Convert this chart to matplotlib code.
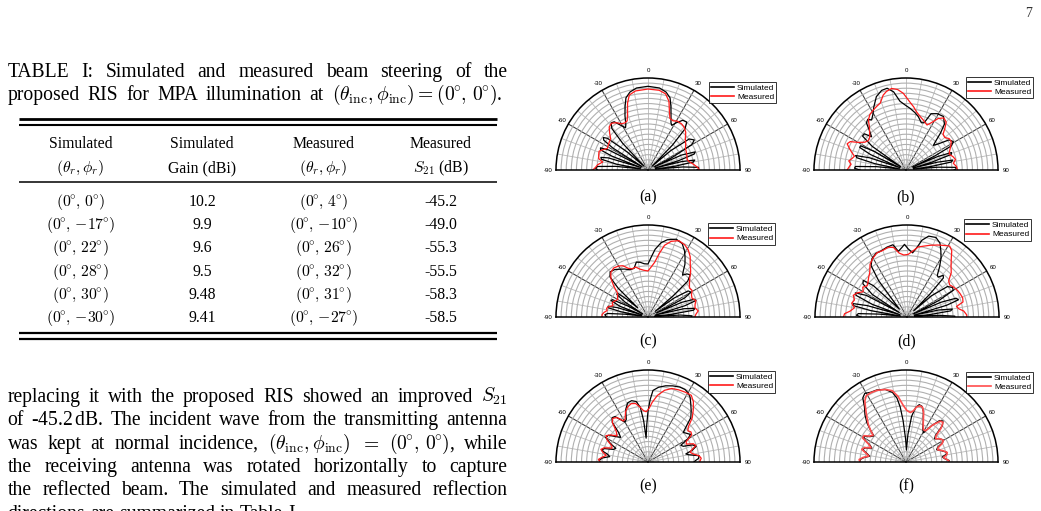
import numpy as np
import matplotlib
matplotlib.use("Agg")
import matplotlib.pyplot as plt
from matplotlib.lines import Line2D

plt.rcParams['font.family'] = 'Liberation Serif'
plt.rcParams['mathtext.fontset'] = 'cm'

W, H = 1041, 511

# ---------------- table data ----------------
col_heads_1 = ["Simulated", "Simulated", "Measured", "Measured"]
col_heads_2 = [r"$(\theta_r,\phi_r)$", "Gain (dBi)", r"$(\theta_r,\phi_r)$", r"$S_{21}$ (dB)"]
sim_phi = [0, -17, 22, 28, 30, -30]
sim_gain = ["10.2", "9.9", "9.6", "9.5", "9.48", "9.41"]
meas_phi = [4, -10, 26, 32, 31, -27]
meas_s21 = ["-45.2", "-49.0", "-55.3", "-55.5", "-58.3", "-58.5"]

# ---------------- pattern data (angle deg, normalised radius) ----------------
a_sim = [(-90,.55),(-88,.57),(-86,.55),(-83.5,.35),(-81.5,.08),(-79.5,.35),(-77,.52),(-75,.53),(-73,.45),(-71,.08),
         (-69,.42),(-67,.56),(-65,.57),(-63,.48),(-60.5,.08),(-58,.45),(-56,.58),(-54,.60),(-52,.56),(-49,.30),
         (-46,.06),(-43.5,.40),(-41,.60),(-38,.65),(-35,.64),(-32,.58),(-28,.52),(-26,.55),(-23,.64),(-20,.73),
         (-17,.82),(-13,.87),(-8,.90),(0,.91),(8,.90),(13,.87),(17,.82),(20,.73),(23,.64),(26,.57),
         (28,.55),(31,.60),(35,.66),(39,.67),(42,.60),(44.5,.38),(47,.06),(49.5,.32),(53,.56),(57,.60),
         (60,.55),(62.5,.30),(64,.08),(66,.40),(69,.55),(71,.53),(73,.35),(74.5,.08),(76,.38),(78,.52),
         (80,.50),(82,.30),(83.5,.08),(85,.38),(87,.55),(89,.55),(90,.53)]
a_meas = [(-90,.60),(-87,.57),(-84,.55),(-80,.50),(-77,.55),(-73,.56),(-69,.57),(-66,.54),(-62,.50),(-58,.51),
          (-54,.52),(-50,.53),(-46,.58),(-42,.63),(-38,.645),(-34,.62),(-30,.58),(-26,.57),(-23,.58),(-20,.65),
          (-17,.76),(-14,.84),(-9,.87),(0,.88),(8,.875),(13,.85),(17,.78),(20,.68),(23,.61),(27,.60),
          (31,.62),(36,.62),(40,.61),(45,.58),(50,.53),(55,.50),(60,.47),(65,.46),(70,.45),(75,.44),
          (79,.46),(83,.50),(87,.54),(90,.56)]

b_sim = [(-90,.50),(-88,.56),(-86,.55),(-83.5,.32),(-81,.07),(-78.5,.35),(-76,.55),(-74,.57),(-71.5,.42),(-69,.07),
         (-66.5,.42),(-64,.56),(-62,.56),(-59.5,.40),(-57.5,.07),(-55,.45),(-52,.60),(-49,.60),(-46,.52),(-43,.58),
         (-40,.67),(-37,.69),(-34.5,.66),(-31,.70),(-27,.77),(-22,.86),(-17,.905),(-13,.912),(-9,.86),(-5,.75),
         (0,.70),(4,.67),(9,.63),(13,.595),(18,.54),(21,.55),(24,.67),(29,.70),(35,.71),(40,.65),
         (43,.55),(45.5,.46),(48,.40),(51,.45),(55,.57),(59,.60),(62,.56),(64,.35),(65.5,.08),(67,.38),
         (69,.53),(71,.52),(73,.30),(74.5,.08),(76,.35),(78,.52),(80,.50),(82,.28),(83.5,.08),(85,.35),
         (87,.55),(89,.54),(90,.52)]
b_meas = [(-90,.64),(-87,.62),(-84,.60),(-81,.63),(-78,.60),(-75,.58),(-72,.62),(-69,.66),(-66,.70),(-63,.68),
          (-60,.60),(-56,.54),(-52,.52),(-48,.53),(-44,.57),(-40,.62),(-37,.68),(-33,.72),(-29,.74),(-25,.76),
          (-21,.78),(-17,.85),(-14,.88),(-10,.90),(-6,.88),(-2,.834),(3,.744),(7,.69),(10,.645),(15,.60),
          (19,.575),(25,.54),(28,.58),(32,.66),(36,.70),(40,.68),(43,.62),(46,.56),(50,.55),(54,.58),
          (58,.58),(62,.55),(66,.52),(70,.50),(74,.53),(78,.55),(82,.52),(86,.55),(90,.56)]

c_sim = [(-90,.45),(-87,.47),(-85,.44),(-83,.25),(-81,.07),(-79,.30),(-77,.44),(-75,.45),(-73,.35),(-71,.07),
         (-69,.33),(-66,.44),(-64,.43),(-61.5,.25),(-59.5,.07),(-57,.30),(-54,.42),(-52,.42),(-50,.30),(-48,.15),
         (-46,.45),(-43.5,.60),(-40,.64),(-35,.63),(-30,.60),(-26,.58),(-21,.55),(-16,.55),(-12,.61),(-8,.60),
         (-4,.58),(0,.576),(3,.65),(6,.74),(10,.82),(14,.865),(20,.90),(25,.88),(29,.82),(32,.76),
         (35,.70),(37.5,.63),(39.5,.59),(42,.63),(45,.65),(48,.58),(50,.35),(52,.10),(54,.35),(57,.52),
         (60,.54),(62.5,.45),(64.5,.10),(66.5,.40),(69,.54),(71,.55),(73,.42),(75,.08),(77,.40),(79.5,.52),
         (81.5,.50),(83.5,.25),(85,.07),(86.5,.35),(88.5,.48),(90,.47)]
c_meas = [(-90,.50),(-87,.50),(-84,.48),(-81,.45),(-78,.46),(-75,.44),(-72,.40),(-68,.42),(-64,.40),(-60,.38),
          (-56,.40),(-52,.42),(-48,.50),(-44,.58),(-40,.63),(-35,.65),(-30,.64),(-26,.62),(-22,.57),(-18,.55),
          (-14,.56),(-10,.53),(-5,.51),(0,.50),(4,.55),(7,.60),(10,.70),(13,.80),(17,.86),(22,.895),
          (27,.88),(31,.85),(35,.80),(39,.73),(43,.68),(47,.62),(51,.58),(55,.55),(59,.56),(63,.53),
          (67,.52),(71,.55),(75,.53),(79,.52),(83,.55),(87,.52),(90,.51)]

d_sim = [(-90,.50),(-88,.55),(-86,.53),(-84,.30),(-82,.07),(-80,.40),(-78,.60),(-76,.60),(-74,.45),(-72,.08),
         (-70,.40),(-67,.60),(-65,.62),(-62,.50),(-59.5,.10),(-57,.45),(-53,.60),(-50,.62),(-47,.50),(-44,.12),
         (-41,.20),(-38,.50),(-35,.68),(-31,.74),(-26,.77),(-22,.77),(-16,.79),(-11,.80),(-7.5,.72),(-4,.76),
         (-2,.79),(1,.74),(5,.70),(8,.76),(11,.85),(15,.91),(20,.92),(24,.88),(27,.81),(30,.74),
         (33,.65),(36,.56),(38,.55),(41,.60),(43,.58),(45,.35),(47,.10),(49,.35),(53,.55),(57,.59),
         (60,.58),(62.5,.40),(64.5,.08),(66.5,.40),(69,.57),(71.5,.59),(73.5,.45),(75.5,.08),(77.5,.35),(80,.50),
         (82,.48),(84,.25),(85.5,.08),(87,.35),(89,.52),(90,.52)]
d_meas = [(-90,.69),(-87,.68),(-84,.62),(-80,.58),(-76,.62),(-72,.60),(-68,.63),(-64,.60),(-60,.55),(-56,.58),
          (-52,.55),(-48,.57),(-44,.60),(-40,.63),(-35,.70),(-30,.74),(-25,.77),(-20,.77),(-15,.785),(-11,.77),
          (-7,.70),(-3,.675),(1,.68),(5,.72),(9,.77),(13,.79),(18,.82),(23,.85),(28,.88),(31,.90),
          (34,.87),(37,.80),(41,.73),(45,.68),(49,.60),(53,.58),(57,.60),(62,.62),(66,.63),(71,.64),
          (75,.63),(78,.55),(81,.57),(84,.62),(88,.65),(90,.65)]

e_sim = [(-90,.52),(-88,.53),(-85,.50),(-82,.42),(-79,.45),(-76,.52),(-73,.50),(-70,.40),(-67,.38),(-64,.45),
         (-60,.53),(-56,.52),(-52,.45),(-48,.40),(-45,.45),(-42,.58),(-39,.62),(-36,.61),(-33,.55),(-30,.50),
         (-27,.52),(-23,.62),(-19,.68),(-15,.69),(-11,.67),(-8,.60),(-6,.45),(-4.5,.26),(-2,.40),(0,.55),
         (2,.68),(4,.78),(8,.82),(13,.85),(18,.87),(23,.885),(27,.885),(30,.87),(33,.84),(36,.79),
         (40,.73),(44,.67),(47,.57),(50,.50),(53,.52),(57,.55),(60,.50),(63,.40),(66,.42),(69,.52),
         (72,.55),(75,.50),(78,.42),(80,.45),(83,.56),(86,.55),(88,.52),(90,.50)]
e_meas = [(-90,.52),(-87,.54),(-84,.50),(-81,.46),(-78,.50),(-75,.53),(-72,.50),(-69,.42),(-66,.43),(-62,.50),
          (-58,.54),(-54,.50),(-50,.44),(-46,.48),(-42,.58),(-39,.61),(-35,.59),(-31,.52),(-28,.53),(-24,.60),
          (-20,.64),(-16,.66),(-12,.65),(-8,.60),(-5,.56),(-2,.547),(1,.58),(4,.65),(8,.73),(13,.80),
          (18,.84),(23,.852),(28,.86),(33,.864),(37,.82),(41,.75),(45,.68),(49,.58),(52,.55),(55,.57),
          (58,.56),(62,.47),(65,.46),(68,.53),(71,.55),(74,.50),(77,.47),(80,.50),(83,.56),(86,.58),(90,.56)]

f_sim = [(-90,.50),(-87,.50),(-84,.46),(-81,.40),(-78,.43),(-74,.49),(-71,.47),(-68,.40),(-65,.43),(-61,.53),
         (-58,.53),(-55,.48),(-51,.45),(-48,.52),(-45,.60),(-41,.68),(-37,.75),(-34,.84),(-31,.87),(-27,.85),
         (-22,.845),(-16,.82),(-11,.77),(-8,.70),(-6,.60),(-4,.45),(-1,.25),(2,.13),(4,.30),(7,.50),
         (10,.60),(13,.64),(16,.63),(19,.58),(23,.48),(27,.40),(31,.37),(35,.48),(39,.58),(42,.60),
         (45,.56),(48,.43),(51,.40),(55,.44),(59,.47),(62,.45),(65,.38),(68,.36),(72,.40),(76,.45),
         (79,.45),(82,.40),(85,.42),(88,.47),(90,.47)]
f_meas = [(-90,.50),(-87,.51),(-84,.47),(-81,.41),(-78,.44),(-74,.50),(-71,.48),(-68,.41),(-65,.44),(-61,.54),
          (-58,.54),(-55,.49),(-51,.46),(-48,.52),(-45,.58),(-41,.65),(-37,.73),(-34,.80),(-31,.84),(-27,.845),
          (-22,.84),(-16,.82),(-11,.79),(-7,.72),(-3,.62),(1,.56),(5,.54),(8,.56),(11,.61),(14,.63),
          (17,.62),(20,.56),(24,.46),(28,.40),(32,.40),(36,.50),(40,.58),(43,.59),(46,.53),(49,.43),
          (52,.41),(56,.45),(60,.47),(63,.44),(66,.38),(69,.37),(73,.42),(77,.46),(80,.45),(83,.41),
          (86,.44),(89,.47),(90,.47)]

panel_labels = ["(a)", "(b)", "(c)", "(d)", "(e)", "(f)"]
theta_tick_deg = list(range(-90, 91, 10))
legend_labels = ["Simulated", "Measured"]

# ---------------- figure ----------------
fig = plt.figure(figsize=(W / 100, H / 100), dpi=100)
fig.patch.set_facecolor("white")
renderer = fig.canvas.get_renderer()


def fx(x):
    return x / W


def fy(y):
    return 1 - y / H


def text_line(words, x0, x1, y, size, justify=True, space=None):
    objs = [fig.text(fx(x0), fy(y), w, fontsize=size, va="baseline", ha="left") for w in words]
    ws = [o.get_window_extent(renderer).width for o in objs]
    if justify and len(words) > 1:
        gap = (x1 - x0 - sum(ws)) / (len(words) - 1)
    else:
        gap = space if space is not None else size * 100 / 72 * 0.25
    x = x0
    for o, w in zip(objs, ws):
        o.set_x(fx(x))
        x += w + gap


DEG = r"^{\!\!\circ}\!"


def ang_txt(p):
    s = "{-}%d" % abs(p) if p < 0 else "%d" % p
    return r"$(0%s,\,%s%s)$" % (DEG, s, DEG)


BODY = 14.1
TAB = 11.3
X0, X1 = 7.5, 507.5

# page number
fig.text(fx(1028.5), fy(16.7), "7", fontsize=10, ha="center", va="baseline", color="#333333")

# caption
text_line("TABLE I: Simulated and measured beam steering of the".split(), X0, X1, 76.7, BODY)
text_line(["proposed", "RIS", "for", "MPA", "illumination", "at",
           r"$(\theta_{\rm inc},\phi_{\rm inc})=(0%s,\,0%s)$." % (DEG, DEG)], X0, 502, 100.2, BODY)

# table rules
for yy, lw in [(119.5, 2.0), (124.6, 1.5), (181.7, 1.1), (333.3, 1.6), (338.8, 1.6)]:
    fig.add_artist(Line2D([fx(19), fx(497)], [fy(yy), fy(yy)], color="black", lw=lw,
                          transform=fig.transFigure, solid_capstyle="butt"))

col_x = [80.7, 202.3, 323.3, 440.7]
for cx, t1, t2 in zip(col_x, col_heads_1, col_heads_2):
    fig.text(fx(cx), fy(148.3), t1, fontsize=TAB, ha="center", va="baseline")
    fig.text(fx(cx), fy(172.0), t2, fontsize=TAB, ha="center", va="baseline")

row_y = [206.0, 229.2, 252.4, 275.7, 298.9, 322.4]
for yy, p1, g, p2, s in zip(row_y, sim_phi, sim_gain, meas_phi, meas_s21):
    fig.text(fx(col_x[0]), fy(yy), ang_txt(p1), fontsize=TAB, ha="center", va="baseline")
    fig.text(fx(col_x[1]), fy(yy), g, fontsize=TAB, ha="center", va="baseline")
    fig.text(fx(col_x[2]), fy(yy), ang_txt(p2), fontsize=TAB, ha="center", va="baseline")
    fig.text(fx(col_x[3]), fy(yy), s, fontsize=TAB, ha="center", va="baseline")

# paragraph
para = [
    (["replacing", "it", "with", "the", "proposed", "RIS", "showed", "an", "improved", r"$S_{21}$"], True),
    (["of", r"-45.2$\,$dB.", "The", "incident", "wave", "from", "the", "transmitting", "antenna"], True),
    (["was", "kept", "at", "normal", "incidence,", r"$(\theta_{\rm inc},\phi_{\rm inc})$", r"$=$",
      r"$(0%s,\,0%s)$," % (DEG, DEG), "while"], True),
    ("the receiving antenna was rotated horizontally to capture".split(), True),
    ("the reflected beam. The simulated and measured reflection".split(), True),
    ("directions are summarized in Table I.".split(), False),
]
for i, (words, just) in enumerate(para):
    text_line(words, X0, X1, 401.7 + i * 23.4, BODY, justify=just)

# ---------------- polar panels ----------------
panels = [(a_sim, a_meas), (b_sim, b_meas), (c_sim, c_meas),
          (d_sim, d_meas), (e_sim, e_meas), (f_sim, f_meas)]
centers = [(648, 170), (906, 170), (648, 317), (907, 317), (648, 462), (906, 462)]
legend_pos = [(709, 82), (966, 77), (708, 223), (964, 219), (708, 371), (966, 372)]
caption_y = [197, 197, 341, 341, 486, 486]
meas_style = [("#ff1a1a", 0.9)] * 5 + [("#ff4d4d", 1.2)]
R = 92

for (sim, meas), (cx, cy), (lx, ly), lab, capy, (mcol, mlw) in zip(
        panels, centers, legend_pos, panel_labels, caption_y, meas_style):
    # the half-disc wedge is centred inside a square box of side 2R
    top = cy - 1.5 * R
    ax = fig.add_axes([(cx - R) / W, (H - (top + 2 * R)) / H, 2 * R / W, 2 * R / H], projection="polar")
    ax.set_theta_zero_location("N")
    ax.set_theta_direction(-1)
    ax.set_thetamin(-90)
    ax.set_thetamax(90)
    ax.set_ylim(0, 1)
    ax.set_yticks(np.linspace(0, 1, 19)[1:-1])
    ax.set_yticklabels([])
    ax.set_xticks(np.deg2rad(theta_tick_deg))
    ax.set_xticklabels([str(a) if a % 30 == 0 else "" for a in theta_tick_deg],
                       fontsize=4.4, family="Liberation Sans")
    ax.tick_params(axis="x", pad=-1.5, length=0)
    ax.tick_params(axis="y", length=0)
    ax.grid(True)
    for gl in ax.yaxis.get_gridlines():
        gl.set_color("#b8b8b8")
        gl.set_linewidth(0.6)
        gl.set_linestyle("-")
    for a, gl in zip(theta_tick_deg, ax.xaxis.get_gridlines()):
        gl.set_linestyle("-")
        if a in (-60, -30, 30, 60):
            gl.set_color("#3a3a3a")
            gl.set_linewidth(0.75)
        else:
            gl.set_color("#b8b8b8")
            gl.set_linewidth(0.6)
    for name, sp in ax.spines.items():
        sp.set_color("black")
        sp.set_linewidth(1.1)
    sa = [p[0] for p in sim]
    sr = [p[1] for p in sim]
    ma = [p[0] for p in meas]
    mr = [p[1] for p in meas]
    l1, = ax.plot(np.deg2rad(sa), sr, color="black", lw=0.9)
    l2, = ax.plot(np.deg2rad(ma), mr, color=mcol, lw=mlw)
    leg = ax.legend([l1, l2], legend_labels, loc="upper left", bbox_to_anchor=(fx(lx), fy(ly)),
                    bbox_transform=fig.transFigure, prop={"family": "Liberation Sans", "size": 6.0},
                    frameon=True, fancybox=False, borderpad=0.25, handlelength=2.7, handletextpad=0.4,
                    labelspacing=0.2, borderaxespad=0)
    leg.get_frame().set_edgecolor("black")
    leg.get_frame().set_linewidth(0.7)
    for h in leg.get_lines():
        h.set_linewidth(1.2)
    fig.text(fx(cx), fy(capy), lab, fontsize=TAB, ha="center", va="center")

fig.savefig("out.png", dpi=100, facecolor="white")
